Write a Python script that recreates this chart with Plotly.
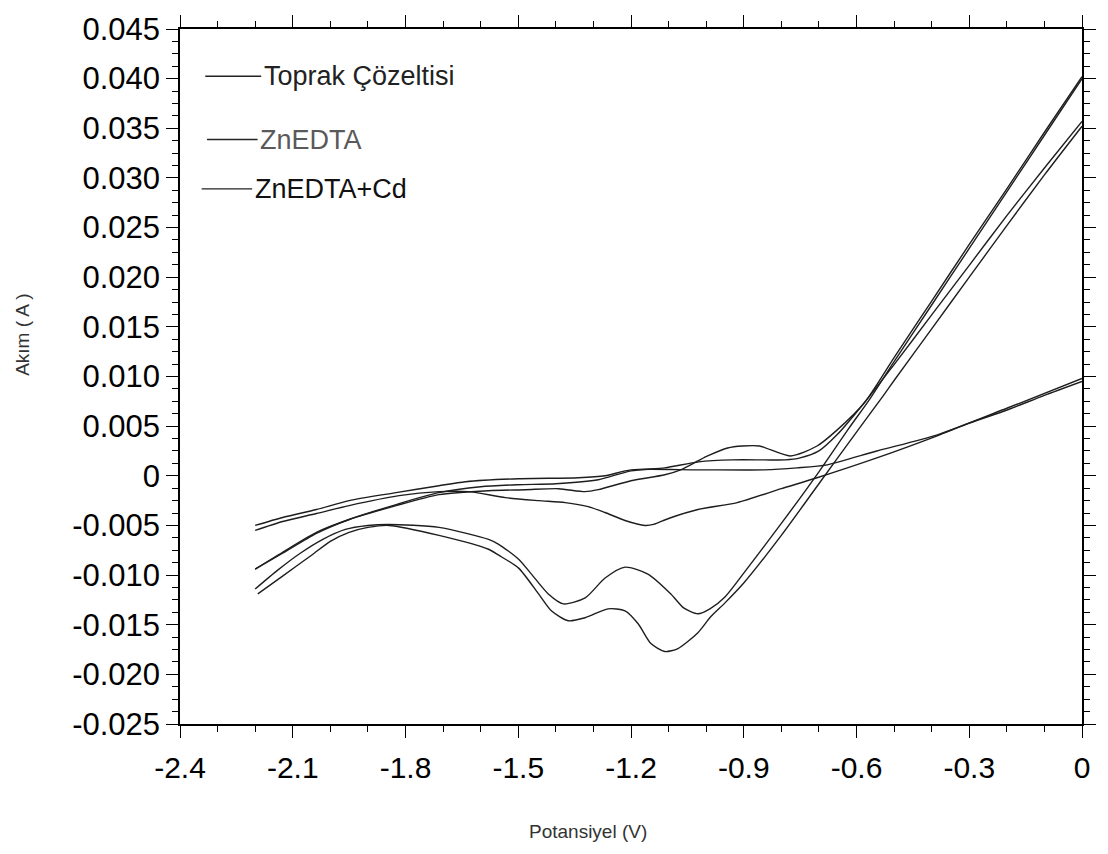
import plotly.graph_objects as go

# ---------------- data (V, A) ----------------
# Toprak Çözeltisi: cathodic (0 -> -2.2) and anodic (-2.2 -> 0) branches
toprak_cat_v = [0, -0.1, -0.201, -0.3, -0.387, -0.546, -0.705, -0.8, -0.917, -1.022, -1.1, -1.14,
                -1.163, -1.216, -1.269, -1.314, -1.375, -1.446, -1.534, -1.632, -1.711, -1.817,
                -1.95, -2.037, -2.127, -2.2]
toprak_cat_i = [0.0095, 0.0081, 0.0066, 0.0053, 0.0040, 0.0018, -0.0002, -0.0013, -0.0027, -0.0034,
                -0.0043, -0.0049, -0.0050, -0.0045, -0.0037, -0.0031, -0.0027, -0.0025, -0.0022,
                -0.0016, -0.0016, -0.0020, -0.0030, -0.0038, -0.0046, -0.0055]
toprak_an_v = [-2.2, -2.127, -2.037, -1.95, -1.825, -1.711, -1.64, -1.5, -1.34, -1.269, -1.2,
               -1.022, -0.845, -0.758, -0.678, -0.546, -0.387, -0.2, 0]
toprak_an_i = [-0.0050, -0.0042, -0.0034, -0.0025, -0.0017, -0.0010, -0.0006, -0.0003, -0.0002,
               0.0, 0.0006, 0.0006, 0.0006, 0.0008, 0.0011, 0.0025, 0.0041, 0.0068, 0.0098]

# ZnEDTA
znedta_cat_v = [0, -0.1, -0.2, -0.3, -0.4, -0.5, -0.567, -0.62, -0.7, -0.8, -0.9, -0.95, -0.99,
                -1.022, -1.06, -1.094, -1.155, -1.216, -1.269, -1.322, -1.38, -1.42, -1.465,
                -1.499, -1.552, -1.579, -1.711, -1.844, -1.9, -1.96, -2.02, -2.08, -2.14, -2.2]
znedta_cat_i = [0.0400, 0.0343, 0.0286, 0.0229, 0.0172, 0.0115, 0.0076, 0.0048, 0.0004, -0.0048,
                -0.0098, -0.0122, -0.0134, -0.0139, -0.0133, -0.0119, -0.0099, -0.0092, -0.0103,
                -0.0123, -0.0129, -0.0119, -0.0099, -0.0084, -0.0069, -0.0064, -0.0052, -0.0049,
                -0.0050, -0.0054, -0.0064, -0.0078, -0.0095, -0.0114]
znedta_an_v = [-2.2, -2.127, -2.037, -1.95, -1.825, -1.711, -1.579, -1.481, -1.393, -1.322, -1.287,
               -1.2, -1.11, -1.068, -1.022, -0.996, -0.943, -0.903, -0.858, -0.776, -0.705, -0.652,
               -0.58, -0.5, -0.4, -0.3, -0.2, -0.1, 0]
znedta_an_i = [-0.0094, -0.0077, -0.0057, -0.0044, -0.0030, -0.0019, -0.0015, -0.0014, -0.0013,
               -0.0016, -0.0014, -0.0005, 0.0001, 0.0006, 0.0015, 0.0020, 0.0028, 0.0030, 0.0030,
               0.0020, 0.0030, 0.0046, 0.0073, 0.0119, 0.0176, 0.0233, 0.0289, 0.0346, 0.0402]

# ZnEDTA+Cd
zncd_cat_v = [0, -0.1, -0.2, -0.3, -0.4, -0.5, -0.53, -0.6, -0.7, -0.8, -0.9, -0.95, -0.988,
              -1.022, -1.075, -1.11, -1.147, -1.181, -1.216, -1.261, -1.322, -1.367, -1.412,
              -1.446, -1.499, -1.552, -1.579, -1.711, -1.844, -1.9, -1.95, -2.0, -2.05, -2.127,
              -2.193]
zncd_cat_i = [0.0352, 0.0303, 0.0252, 0.0200, 0.0148, 0.0096, 0.0080, 0.0044, -0.0008, -0.0060,
              -0.0108, -0.0128, -0.0142, -0.0158, -0.0174, -0.0177, -0.0169, -0.0149, -0.0136,
              -0.0134, -0.0143, -0.0146, -0.0136, -0.0119, -0.0093, -0.0080, -0.0074, -0.0060,
              -0.0050, -0.0052, -0.0057, -0.0066, -0.0080, -0.0101, -0.0119]
zncd_an_v = [-2.2, -2.127, -2.037, -1.95, -1.825, -1.711, -1.6, -1.5, -1.4, -1.287, -1.2, -1.11,
             -1.02, -0.93, -0.845, -0.79, -0.75, -0.70, -0.65, -0.6, -0.5, -0.4, -0.3, -0.2, -0.1, 0]
zncd_an_i = [-0.0094, -0.0078, -0.0058, -0.0044, -0.0029, -0.0017, -0.0011, -0.0009, -0.0008,
             -0.0004, 0.0005, 0.0008, 0.0014, 0.0016, 0.0016, 0.0016, 0.0018, 0.0025, 0.0042,
             0.0064, 0.0112, 0.0162, 0.0212, 0.0262, 0.0310, 0.0357]

series_names = ["Toprak Çözeltisi", "ZnEDTA", "ZnEDTA+Cd"]
legend_colors = ["#222222", "#5a5a5a", "#111111"]

x_ticks = [-2.4, -2.1, -1.8, -1.5, -1.2, -0.9, -0.6, -0.3, 0]
x_ticktext = ["-2.4", "-2.1", "-1.8", "-1.5", "-1.2", "-0.9", "-0.6", "-0.3", "0"]
y_ticks = [-0.025, -0.02, -0.015, -0.01, -0.005, 0, 0.005, 0.01, 0.015, 0.02, 0.025, 0.03,
           0.035, 0.04, 0.045]
y_ticktext = ["-0.025", "-0.020", "-0.015", "-0.010", "-0.005", "0", "0.005", "0.010", "0.015",
              "0.020", "0.025", "0.030", "0.035", "0.040", "0.045"]

# ---------------- figure ----------------
fig = go.Figure()
branches = [
    (series_names[0], toprak_cat_v, toprak_cat_i),
    (series_names[0], toprak_an_v, toprak_an_i),
    (series_names[1], znedta_cat_v, znedta_cat_i),
    (series_names[1], znedta_an_v, znedta_an_i),
    (series_names[2], zncd_cat_v, zncd_cat_i),
    (series_names[2], zncd_an_v, zncd_an_i),
]
for name, vv, ii in branches:
    fig.add_trace(go.Scatter(x=vv, y=ii, mode="lines", name=name, legendgroup=name,
                             showlegend=False,
                             line=dict(color="#1e1e1e", width=1.4, shape="spline", smoothing=0.7)))

sans = "Liberation Sans, Arial, sans-serif"
axis_common = dict(showline=True, linecolor="black", linewidth=1.5, mirror="allticks",
                   ticks="outside", ticklen=12, tickwidth=1.3, tickcolor="black",
                   showgrid=False, zeroline=False)

fig.update_xaxes(range=[-2.4, 0], tickmode="array", tickvals=x_ticks, ticktext=x_ticktext,
                 tickfont=dict(family=sans, size=30, color="black"), ticklabelstandoff=4,
                 minor=dict(tickmode="linear", tick0=-2.4, dtick=0.1, ticks="outside",
                            ticklen=6, tickwidth=1.2, tickcolor="black"),
                 **axis_common)
fig.update_yaxes(range=[-0.025, 0.045], tickmode="array", tickvals=y_ticks, ticktext=y_ticktext,
                 tickfont=dict(family=sans, size=31, color="black"),
                 minor=dict(tickmode="linear", tick0=-0.025, dtick=0.00125, ticks="outside",
                            ticklen=6, tickwidth=1.2, tickcolor="black"),
                 **axis_common)

# legend drawn as line samples + labels (paper coordinates)
leg_y = [0.932, 0.841, 0.770]
leg_x0 = [0.028, 0.030, 0.024]
leg_x1 = [0.090, 0.086, 0.080]
for k, name in enumerate(series_names):
    fig.add_shape(type="line", xref="paper", yref="paper", x0=leg_x0[k], x1=leg_x1[k],
                  y0=leg_y[k], y1=leg_y[k], line=dict(color="#222222", width=1.3))
    fig.add_annotation(xref="paper", yref="paper", x=leg_x1[k] + 0.001, y=leg_y[k],
                       text=name, showarrow=False, xanchor="left", yanchor="middle",
                       font=dict(family=sans, size=27, color=legend_colors[k]))

# axis titles
fig.add_annotation(xref="paper", yref="paper", x=0.452, y=-0.155, text="Potansiyel (V)",
                   showarrow=False, xanchor="center", yanchor="middle",
                   font=dict(family=sans, size=19, color="#333333"))
fig.add_annotation(xref="paper", yref="paper", x=-0.174, y=0.56, text="Akım ( A )",
                   showarrow=False, textangle=-90, xanchor="center", yanchor="middle",
                   font=dict(family=sans, size=19, color="#333333"))

fig.update_layout(width=1108, height=854, margin=dict(l=180, r=22, t=20, b=130),
                  plot_bgcolor="white", paper_bgcolor="white")

fig.write_html("out.html")
